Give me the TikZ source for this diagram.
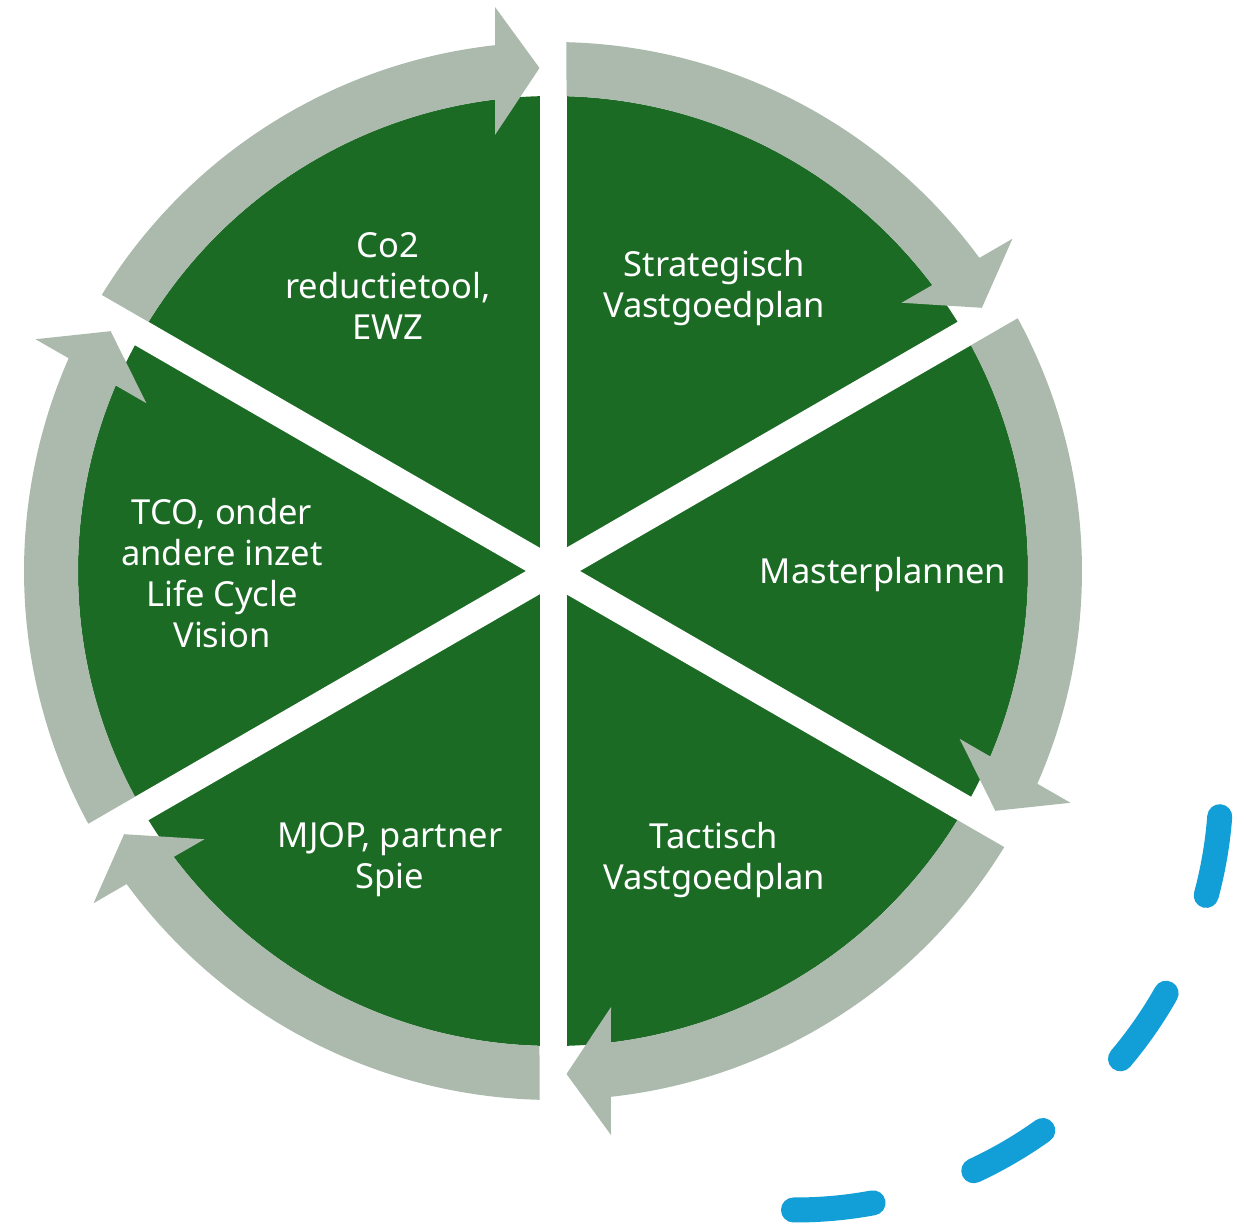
\documentclass[tikz,border=0pt]{standalone}
\usepackage{fontspec}
\setmainfont{Noto Sans}
\definecolor{pgreen}{RGB}{27,107,37}
\definecolor{pgray}{RGB}{171,186,173}
\definecolor{pblue}{RGB}{18,158,214}
\begin{document}
\begin{tikzpicture}[x=1pt,y=1pt,
  sector/.style={fill=pgreen},
  gapline/.style={draw=white,line width=27pt},
  ringarrow/.style={fill=pgray},
  segtext/.style={text=white,align=center,font=\fontsize{34.5}{41}\selectfont,inner sep=0pt},
  bluedash/.style={draw=pblue,line width=25pt,line cap=round,dash pattern=on 80pt off 106pt}]
\useasboundingbox (-553,-654) rectangle (693,571);
\fill[sector] (0,0) circle[radius=475];
\foreach \a in {90,30,150} \draw[gapline] (\a:480) -- (\a+180:480);
\foreach \r in {0,-60,-120,-180,-240,-300}{
  \begin{scope}[rotate=\r]
    \fill[ringarrow] (148.54:529) arc[start angle=148.54,end angle=96.29,radius=529]
      -- (-58,564) -- (-13.5,503) -- (-58,436) -- (97.01:475)
      arc[start angle=97.01,end angle=148.37,radius=475] -- cycle;
  \end{scope}
}
\node[segtext] (t1) at (-165,285) {Co2\\reductietool,\\EWZ};
\node[segtext] (t2) at (161,283) {Strategisch\\Vastgoedplan};
\node[segtext] (t3) at (330,-4) {Masterplannen};
\node[segtext] (t4) at (161,-289) {Tactisch\\Vastgoedplan};
\node[segtext] (t5) at (-163,-289) {MJOP, partner\\Spie};
\node[segtext] (t6) at (-331,-2) {TCO, onder\\andere inzet\\Life Cycle\\Vision};
\coordinate (bc) at (242,-213);
\draw[bluedash] (bc) ++(-4.4:426) arc[start angle=-4.4,end angle=-90.4,radius=426];
\end{tikzpicture}
\end{document}
